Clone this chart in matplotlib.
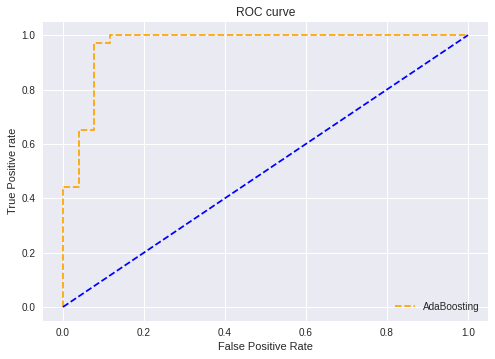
import matplotlib
matplotlib.use("Agg")
import matplotlib.pyplot as plt

# ROC step points
fpr = [0.0, 0.0, 0.04, 0.04, 0.077, 0.077, 0.115, 0.115, 1.0]
tpr = [0.0, 0.44, 0.44, 0.65, 0.65, 0.97, 0.97, 1.0, 1.0]
diag = [0.0, 1.0]

plt.style.use('seaborn-v0_8')
fig = plt.figure(figsize=(495 / 72, 359 / 72), dpi=72)
ax = fig.add_axes([0.0863, 0.107, 0.90, 0.833])

ax.plot(fpr, tpr, linestyle='--', color='orange', label='AdaBoosting')
ax.plot(diag, diag, linestyle='--', color='blue')
ax.set_title('ROC curve')
ax.set_xlabel('False Positive Rate')
ax.set_ylabel('True Positive rate')
ax.legend(loc='lower right')

fig.savefig('out.png', dpi=72)
